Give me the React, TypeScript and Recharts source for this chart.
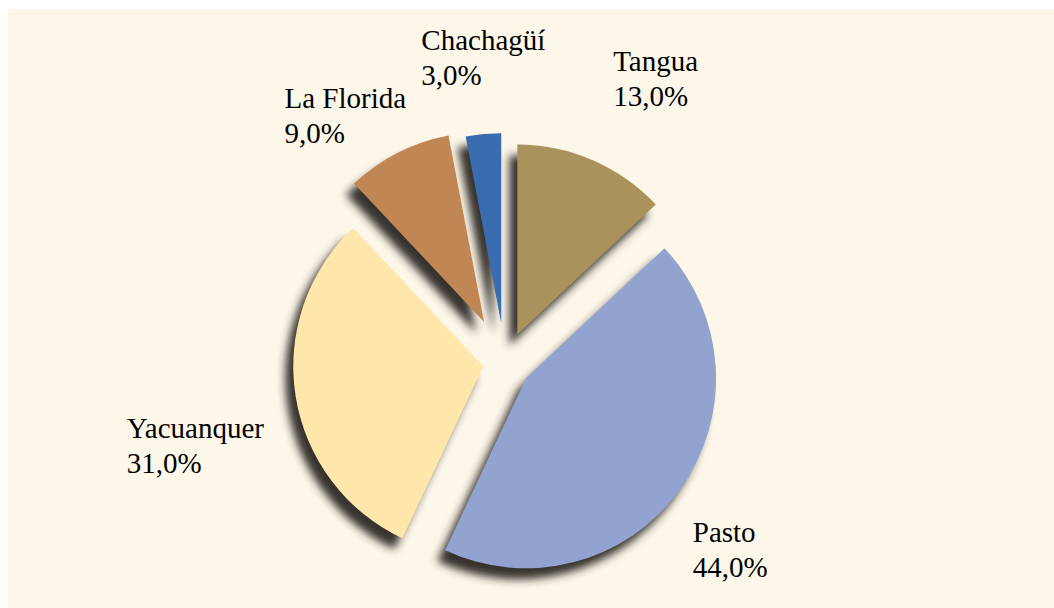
import React from 'react';
import { PieChart, Pie, Cell, Sector } from 'recharts';

const municipios = ['Tangua', 'Pasto', 'Yacuanquer', 'La Florida', 'Chachagüí'];
const porcentajes = [13, 44, 31, 9, 3];

const colores = ['#AA925C', '#92A3CF', '#FFE6AA', '#C08755', '#3A6CB0'];
// how far each slice is pulled out of the pie (px)
const explode = [31, 26, 22, 46, 40];
// label nudges from the radial anchor: [left x, first baseline]
const labelNudge: [number, number][] = [[-13, -12], [-59, 0], [-77, 27], [-82, 17], [-55, -9]];

const data = municipios.map((m, i) => ({ name: m, value: porcentajes[i] }));

const RAD = Math.PI / 180;
const W = 1046;
const H = 599;
const CX = 497;
const CY = 354;
const R_LABEL = 305;
const FS = 29;
const LH = 35;

const slot = (p: any) => {
  const n = p.name ?? p.payload?.name;
  const i = municipios.indexOf(n);
  return i < 0 ? 0 : i;
};

const ExplodedSector = (p: any) => {
  const d = explode[slot(p)];
  const dx = d * Math.cos(-p.midAngle * RAD);
  const dy = d * Math.sin(-p.midAngle * RAD);
  return <Sector {...p} cx={p.cx + dx} cy={p.cy + dy} stroke="none" />;
};

const ShadowSector = (p: any) => {
  const d = explode[slot(p)];
  const dx = d * Math.cos(-p.midAngle * RAD) - 8;
  const dy = d * Math.sin(-p.midAngle * RAD) + 11;
  return (
    <Sector {...p} cx={p.cx + dx} cy={p.cy + dy} fill="#2b2824" fillOpacity={0.95} stroke="none" filter="url(#sombra)" />
  );
};

// data labels as plain HTML, same angles as the pie (clockwise from 12 o'clock)
const Etiquetas = () => {
  const total = porcentajes.reduce((a, b) => a + b, 0);
  let acc = 0;
  return (
    <>
      {municipios.map((m, i) => {
        const mid = ((acc + porcentajes[i] / 2) / total) * 360;
        acc += porcentajes[i];
        const x = CX + R_LABEL * Math.sin(mid * RAD) + labelNudge[i][0];
        const y = CY - R_LABEL * Math.cos(mid * RAD) + labelNudge[i][1];
        const pct = porcentajes[i].toFixed(1).replace('.', ',') + '%';
        return (
          <div
            key={m}
            style={{
              position: 'absolute',
              left: x,
              top: y - 27,
              fontFamily: 'Liberation Serif',
              fontSize: FS,
              lineHeight: LH + 'px',
              color: '#000',
              whiteSpace: 'nowrap',
              pointerEvents: 'none',
            }}
          >
            <div>{m}</div>
            <div>{pct}</div>
          </div>
        );
      })}
    </>
  );
};

export default function App() {
  return (
    <div style={{ position: 'absolute', left: 8, top: 9, width: W, height: H, background: '#FDF7EA' }}>
      <PieChart width={W} height={H} margin={{ top: 0, right: 0, bottom: 0, left: 0 }}>
        <defs>
          <filter id="sombra" filterUnits="userSpaceOnUse" x={0} y={0} width={W} height={H}>
            <feGaussianBlur stdDeviation={4.5} />
          </filter>
        </defs>
        <Pie
          data={data}
          dataKey="value"
          nameKey="name"
          cx={CX}
          cy={CY}
          outerRadius={190}
          startAngle={90}
          endAngle={-270}
          shape={ShadowSector}
          label={false}
          labelLine={false}
          isAnimationActive={false}
        >
          {data.map((d, i) => (
            <Cell key={d.name} fill={colores[i]} />
          ))}
        </Pie>
        <Pie
          data={data}
          dataKey="value"
          nameKey="name"
          cx={CX}
          cy={CY}
          outerRadius={190}
          startAngle={90}
          endAngle={-270}
          shape={ExplodedSector}
          label={false}
          labelLine={false}
          isAnimationActive={false}
        >
          {data.map((d, i) => (
            <Cell key={d.name} fill={colores[i]} />
          ))}
        </Pie>
      </PieChart>
      <Etiquetas />
    </div>
  );
}
